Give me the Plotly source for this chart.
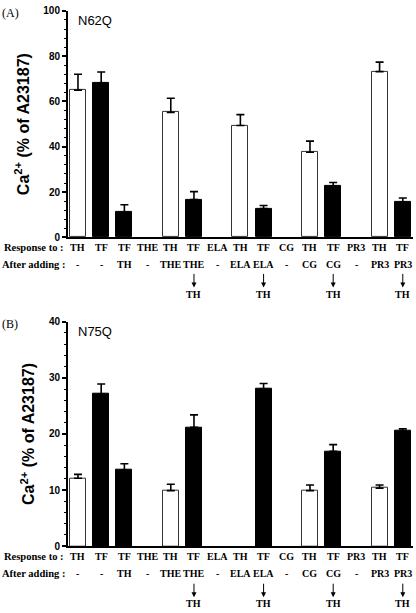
import plotly.graph_objects as go

# ---------------- data ----------------
response_to = ["TH", "TF", "TF", "THE", "TH", "TF", "ELA", "TH", "TF", "CG", "TH", "TF", "PR3", "TH", "TF"]
after_adding = ["-", "-", "TH", "-", "THE", "THE", "-", "ELA", "ELA", "-", "CG", "CG", "-", "PR3", "PR3"]
then_adding = ["", "", "", "", "", "TH", "", "", "TH", "", "", "TH", "", "", "TH"]

n62q_values = [65, 68, 11.2, None, 55.2, 16.7, None, 49.4, 12.7, None, 37.6, 22.8, None, 73.2, 15.6]
n62q_errors = [7, 5, 3.2, 0, 6.2, 3.5, 0, 4.8, 1.4, 0, 4.9, 1.4, 0, 4.2, 1.8]

n75q_values = [12.1, 27.1, 13.6, None, 9.9, 21.2, None, None, 28.0, None, 9.9, 16.9, None, 10.35, 20.5]
n75q_errors = [0.7, 1.8, 1.1, 0, 1.15, 2.2, 0, 0, 1.0, 0, 1.0, 1.2, 0, 0.55, 0.4]

panel_a_ticks = [0, 20, 40, 60, 80, 100]
panel_b_ticks = [0, 10, 20, 30, 40]

# ---------------- style ----------------
W, H = 416, 613
fill_map = {"TH": "white", "TF": "black"}
line_map = {"TH": "#333333", "TF": "black"}
x_idx = list(range(len(response_to)))
fills = [fill_map.get(r, "white") for r in response_to]
lines = [line_map.get(r, "black") for r in response_to]

SANS = "Liberation Sans, Arial, sans-serif"
SERIF = "Liberation Serif, Times New Roman, serif"


def py(px):
    return 1 - px / H


fig = go.Figure()
for vals, errs, xa, ya in [(n62q_values, n62q_errors, "x", "y"),
                           (n75q_values, n75q_errors, "x2", "y2")]:
    fig.add_trace(go.Bar(
        x=x_idx, y=vals, xaxis=xa, yaxis=ya, width=0.69,
        marker=dict(color=fills, line=dict(color=lines, width=1)),
        error_y=dict(type="data", symmetric=False, array=errs,
                     arrayminus=[0] * len(errs), color="black",
                     thickness=1.6, width=4),
        showlegend=False, hoverinfo="skip"))

xr = [-0.43, 14.44]
xdom = [68 / W, 413 / W]


def yaxis_cfg(dom, rng, ticks, minor):
    return dict(domain=dom, range=rng, tickvals=ticks, ticks="outside",
                ticklen=4, tickwidth=1.5, tickcolor="black",
                showline=True, linewidth=2, linecolor="black",
                showgrid=False, zeroline=False,
                tickfont=dict(family=SANS, size=10, color="black", weight="bold"),
                minor=dict(dtick=minor, ticks="outside", ticklen=2,
                           tickwidth=1.2, tickcolor="black", showgrid=False),
                title=dict(text="Ca<sup>2+</sup> (% of A23187)", standoff=10,
                           font=dict(family=SANS, size=16, color="black", weight="bold")))


def xaxis_cfg(anchor):
    return dict(domain=xdom, range=xr, anchor=anchor, showline=True,
                linewidth=2, linecolor="black", showticklabels=False,
                ticks="", showgrid=False, zeroline=False)


fig.update_layout(
    width=W, height=H, margin=dict(l=0, r=0, t=0, b=0),
    paper_bgcolor="white", plot_bgcolor="white", bargap=0,
    xaxis=xaxis_cfg("y"),
    yaxis=yaxis_cfg([py(236), py(5)], [0, 100], panel_a_ticks, 4),
    xaxis2=xaxis_cfg("y2"),
    yaxis2=yaxis_cfg([py(551), py(322)], [0, 40], panel_b_ticks, 2),
)

ann = []
head_font = dict(family=SERIF, size=10.5, color="black", weight="bold")
lab_font = dict(family=SERIF, size=10, color="black", weight="bold")
for xa, y_resp, y_after, y_tip, y_th, panel, name, y_panel in [
        ("x", 246, 264, 287, 294, "(A)", "N62Q", 15),
        ("x2", 562, 579, 603, 609, "(B)", "N75Q", 332)]:
    ann.append(dict(xref="paper", yref="paper", x=2 / W, y=py(y_resp), text="Response to :",
                    showarrow=False, xanchor="left", yanchor="middle", font=head_font))
    ann.append(dict(xref="paper", yref="paper", x=0, y=py(y_after), text="After adding :",
                    showarrow=False, xanchor="left", yanchor="middle", font=head_font))
    ann.append(dict(xref="paper", yref="paper", x=0, y=py(y_panel - 8), text=panel,
                    showarrow=False, xanchor="left", yanchor="middle",
                    font=dict(family=SERIF, size=12, color="black")))
    ann.append(dict(xref="paper", yref="paper", x=76 / W, y=py(y_panel), text=name,
                    showarrow=False, xanchor="left", yanchor="middle",
                    font=dict(family=SANS, size=13, color="black")))
    for i in x_idx:
        ann.append(dict(xref=xa, yref="paper", x=i, y=py(y_resp), text=response_to[i],
                        showarrow=False, xanchor="center", yanchor="middle", font=lab_font))
        ann.append(dict(xref=xa, yref="paper", x=i, y=py(y_after), text=after_adding[i],
                        showarrow=False, xanchor="center", yanchor="middle", font=lab_font))
        if then_adding[i]:
            ann.append(dict(xref=xa, yref="paper", x=i, y=py(y_tip), text="",
                            showarrow=True, ax=0, ay=-15, arrowhead=2, arrowsize=1,
                            arrowwidth=1, arrowcolor="black", standoff=0, startstandoff=0))
            ann.append(dict(xref=xa, yref="paper", x=i, y=py(y_th), text=then_adding[i],
                            showarrow=False, xanchor="center", yanchor="middle", font=lab_font))

fig.update_layout(annotations=ann)

fig.write_html("out.html", config={"displayModeBar": False},
               post_script="document.body.style.margin='0';document.body.style.overflow='hidden';")
